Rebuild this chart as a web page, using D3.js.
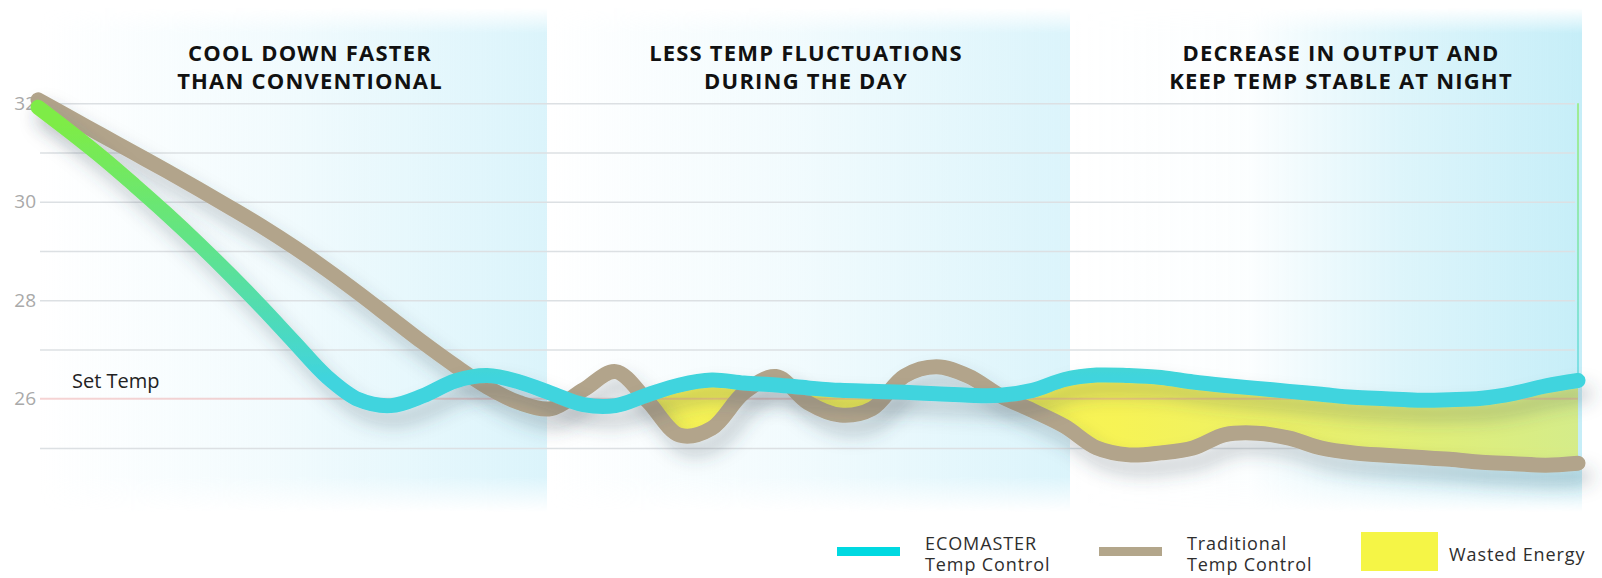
<!DOCTYPE html>
<html>
<head>
<meta charset="utf-8">
<title>ECOMASTER vs Traditional Temp Control</title>
<script src="https://cdn.jsdelivr.net/npm/d3@7"></script>
<style>
  html, body { margin: 0; padding: 0; background: #fff; }
  svg { display: block; font-family: "Open Sans", sans-serif; }
</style>
</head>
<body>
<svg id="chart" width="1602" height="578"></svg>
<script>
// ─── Data ────────────────────────────────────────────────────────────
// time of day in hours, one sample every half hour
const hours = [
  0, 0.5, 1, 1.5, 2, 2.5, 3, 3.5, 4, 4.5, 5, 5.5, 6, 6.5, 7, 7.5,
  8, 8.5, 9, 9.5, 10, 10.5, 11, 11.5, 12, 12.5, 13, 13.5, 14, 14.5, 15, 15.5,
  16, 16.5, 17, 17.5, 18, 18.5, 19, 19.5, 20, 20.5, 21, 21.5, 22, 22.5, 23, 23.5, 24
];

// room temperature (°C) with ECOMASTER
const ecomaster = [
  31.92, 31.42, 30.90, 30.34, 29.76, 29.15, 28.51, 27.84, 27.14, 26.45, 25.98, 25.86, 26.06, 26.36, 26.47, 26.34,
  26.11, 25.88, 25.86, 26.08, 26.28, 26.38, 26.32, 26.28, 26.22, 26.17, 26.15, 26.13, 26.10, 26.07, 26.07, 26.17,
  26.39, 26.48, 26.47, 26.43, 26.34, 26.27, 26.21, 26.15, 26.09, 26.03, 26.00, 25.97, 25.98, 26.01, 26.11, 26.26, 26.37
];

// room temperature (°C) with traditional control
const traditional = [
  32.07, 31.71, 31.35, 30.99, 30.63, 30.26, 29.88, 29.49, 29.07, 28.62, 28.14, 27.64, 27.14, 26.67, 26.24, 25.92,
  25.80, 26.18, 26.55, 25.95, 25.26, 25.40, 26.12, 26.45, 25.92, 25.67, 25.80, 26.46, 26.65, 26.46, 26.06, 25.76,
  25.44, 25.00, 24.86, 24.90, 25.00, 25.27, 25.30, 25.20, 25.00, 24.90, 24.85, 24.81, 24.77, 24.71, 24.68, 24.65, 24.69
];

const setTemp     = 26;
const yTickValues = [26, 28, 30, 32];
const gridValues  = [25, 27, 28, 29, 30, 31, 32];
const wasteFrom   = 8;   // hour from which the gap counts as wasted energy

const phaseTitles = [
  ["COOL DOWN FASTER", "THAN CONVENTIONAL"],
  ["LESS TEMP FLUCTUATIONS", "DURING THE DAY"],
  ["DECREASE IN OUTPUT AND", "KEEP TEMP STABLE AT NIGHT"]
];
const legendLabels = [
  ["ECOMASTER", "Temp Control"],
  ["Traditional", "Temp Control"],
  ["Wasted Energy"]
];

// ─── Layout & styles ────────────────────────────────────────────────
const layout = {
  gridX0: 40, gridX1: 1575,
  panels: [
    { x0: 40,   x1: 547,  color: "#dbf4fb", stops: [[0, 0], [0.45, 0.35], [1, 1]] },
    { x0: 547,  x1: 1070, color: "#dbf4fb", stops: [[0, 0], [0.45, 0.35], [1, 1]] },
    { x0: 1070, x1: 1582, color: "#c6eef8", stops: [[0, 0], [0.35, 0.06], [0.65, 0.6], [1, 1]] }
  ],
  panelY0: 8, panelY1: 512,
  titleX: [310, 806, 1341],
  titleY: 61, titleLead: 28,
  legendX: 837, legendStep: 262, legendTextDx: 88
};
const colors = {
  eco: "#40d4de", ecoTop: "#7eec46", trad: "#b2a48b",
  waste: "#f6f246", wasteRight: "#d6ec80",
  grid: "#dce0e3", setTemp: "#eca0a0", axis: "#a9a9a9",
  legend: ["#00d9e1", "#b3a68b", "#f5f546"]
};

const svg = d3.select("#chart");

const x = d3.scaleLinear().domain([0, 24]).range([38, 1578]);
const y = d3.scaleLinear().domain([24, 33]).range([497.2, 54.1]);

const rows = hours.map((h, i) => ({ h, eco: ecomaster[i], trad: traditional[i] }));

const defs = svg.append("defs");

// 1. Phase background panels (cyan fading in to the right, soft top/bottom)
layout.panels.forEach((p, i) => {
  const g = defs.append("linearGradient").attr("id", "panel" + i);
  p.stops.forEach(([o, op]) =>
    g.append("stop").attr("offset", o).attr("stop-color", p.color).attr("stop-opacity", op));
});
const vfade = defs.append("linearGradient").attr("id", "vfade")
  .attr("x1", 0).attr("y1", 0).attr("x2", 0).attr("y2", 1);
[[0, 0], [0.05, 1], [0.93, 1], [1, 0]].forEach(([o, v]) =>
  vfade.append("stop").attr("offset", o).attr("stop-color", "#fff").attr("stop-opacity", v));
defs.append("mask").attr("id", "panelMask")
  .attr("maskUnits", "userSpaceOnUse")
  .attr("x", 0).attr("y", 0).attr("width", 1602).attr("height", 578)
  .append("rect")
  .attr("x", 0).attr("y", layout.panelY0)
  .attr("width", 1602).attr("height", layout.panelY1 - layout.panelY0)
  .attr("fill", "url(#vfade)");

svg.append("g").attr("mask", "url(#panelMask)")
  .selectAll("rect").data(layout.panels).join("rect")
  .attr("x", d => d.x0).attr("y", layout.panelY0)
  .attr("width", d => d.x1 - d.x0).attr("height", layout.panelY1 - layout.panelY0)
  .attr("fill", (d, i) => `url(#panel${i})`);

// 2. Grid + y labels
const grid = svg.append("g")
  .attr("transform", `translate(${layout.gridX0},0)`)
  .call(d3.axisLeft(y).tickValues(gridValues)
    .tickSize(-(layout.gridX1 - layout.gridX0)).tickFormat(""));
grid.select(".domain").remove();
grid.selectAll(".tick line").attr("stroke", colors.grid).attr("stroke-width", 1.5);

const yAxis = svg.append("g")
  .attr("transform", "translate(36,0)")
  .call(d3.axisLeft(y).tickValues(yTickValues).tickSize(0).tickPadding(0));
yAxis.select(".domain").remove();
yAxis.selectAll("text")
  .attr("font-family", "Open Sans, sans-serif")
  .attr("font-size", 19)
  .attr("fill", colors.axis);

// 3. Phase titles
svg.append("g").selectAll("text").data(phaseTitles).join("text")
  .attr("x", (d, i) => layout.titleX[i])
  .attr("y", layout.titleY)
  .attr("text-anchor", "middle")
  .attr("font-size", 22).attr("font-weight", 700)
  .attr("letter-spacing", 1.2)
  .attr("fill", "#111")
  .selectAll("tspan").data(d => d).join("tspan")
  .attr("x", function() { return this.parentNode.getAttribute("x"); })
  .attr("dy", (d, i) => i ? layout.titleLead : 0)
  .text(d => d);

// 4. Wasted energy band: gap between both curves where traditional runs colder
const curve = d3.curveCatmullRom.alpha(0.5);
const wasteGrad = defs.append("linearGradient").attr("id", "wasteGrad")
  .attr("gradientUnits", "userSpaceOnUse")
  .attr("x1", x(wasteFrom)).attr("x2", x(24)).attr("y1", 0).attr("y2", 0);
wasteGrad.append("stop").attr("offset", 0).attr("stop-color", colors.waste);
wasteGrad.append("stop").attr("offset", 0.55).attr("stop-color", colors.waste);
wasteGrad.append("stop").attr("offset", 1).attr("stop-color", colors.wasteRight);

defs.append("clipPath").attr("id", "belowEco")
  .append("path")
  .attr("d", d3.area().curve(curve)
    .x(d => x(d.h)).y0(y.range()[0]).y1(d => y(d.eco))(rows));
defs.append("clipPath").attr("id", "wasteSpan")
  .append("rect")
  .attr("x", x(wasteFrom)).attr("y", 0)
  .attr("width", x(24) - x(wasteFrom) + 2).attr("height", 578);

svg.append("g").attr("clip-path", "url(#wasteSpan)")
  .append("path")
  .attr("clip-path", "url(#belowEco)")
  .attr("d", d3.area().curve(curve)
    .x(d => x(d.h)).y0(d => y(d.trad)).y1(d => y(d.eco))(rows))
  .attr("fill", "url(#wasteGrad)")
  .attr("opacity", 0.92);

// set temperature reference
svg.append("line")
  .attr("x1", layout.gridX0).attr("x2", x(24))
  .attr("y1", y(setTemp)).attr("y2", y(setTemp))
  .attr("stroke", colors.setTemp).attr("stroke-width", 2)
  .attr("opacity", 0.45);
svg.append("text")
  .attr("x", 72).attr("y", y(setTemp) - 11)
  .attr("font-size", 20).attr("fill", "#222")
  .text("Set Temp");

// 5. Lines
const shadow = defs.append("filter").attr("id", "shadow")
  .attr("x", "-10%").attr("y", "-30%").attr("width", "130%").attr("height", "180%");
shadow.append("feDropShadow")
  .attr("dx", 7).attr("dy", 13).attr("stdDeviation", 9)
  .attr("flood-color", "#3a4a5a").attr("flood-opacity", 0.28);

const ecoGrad = defs.append("linearGradient").attr("id", "ecoGrad")
  .attr("gradientUnits", "userSpaceOnUse")
  .attr("x1", 0).attr("x2", 0).attr("y1", y(31.6)).attr("y2", y(26.4));
ecoGrad.append("stop").attr("offset", 0).attr("stop-color", colors.ecoTop);
ecoGrad.append("stop").attr("offset", 0.5).attr("stop-color", "#5fe38d");
ecoGrad.append("stop").attr("offset", 1).attr("stop-color", colors.eco);

// end-of-cycle marker on the right edge
svg.append("line")
  .attr("x1", x(24)).attr("x2", x(24))
  .attr("y1", y(32)).attr("y2", y(ecomaster[ecomaster.length - 1]))
  .attr("stroke", "url(#ecoGrad)").attr("stroke-width", 2).attr("opacity", 0.55);

const line = key => d3.line().curve(curve).x(d => x(d.h)).y(d => y(d[key]));

svg.append("path")
  .attr("d", line("trad")(rows))
  .attr("fill", "none").attr("stroke", colors.trad)
  .attr("stroke-width", 15).attr("stroke-linecap", "round").attr("stroke-linejoin", "round")
  .attr("filter", "url(#shadow)");

svg.append("path")
  .attr("d", line("eco")(rows))
  .attr("fill", "none").attr("stroke", "url(#ecoGrad)")
  .attr("stroke-width", 15).attr("stroke-linecap", "round").attr("stroke-linejoin", "round")
  .attr("filter", "url(#shadow)");

// 6. Legend
const legend = svg.append("g").selectAll("g").data(legendLabels).join("g")
  .attr("transform", (d, i) => `translate(${layout.legendX + i * layout.legendStep},0)`);

legend.append("rect")
  .attr("x", 0)
  .attr("y", (d, i) => i < 2 ? 547 : 532)
  .attr("width", (d, i) => i < 2 ? 63 : 77)
  .attr("height", (d, i) => i < 2 ? 9 : 39)
  .attr("fill", (d, i) => colors.legend[i]);

legend.append("text")
  .attr("x", layout.legendTextDx)
  .attr("y", d => d.length > 1 ? 550 : 561)
  .attr("font-size", 18).attr("letter-spacing", 0.9).attr("fill", "#2e2e2e")
  .selectAll("tspan").data(d => d).join("tspan")
  .attr("x", layout.legendTextDx)
  .attr("dy", (d, i) => i ? 21 : 0)
  .text(d => d);
</script>
</body>
</html>
